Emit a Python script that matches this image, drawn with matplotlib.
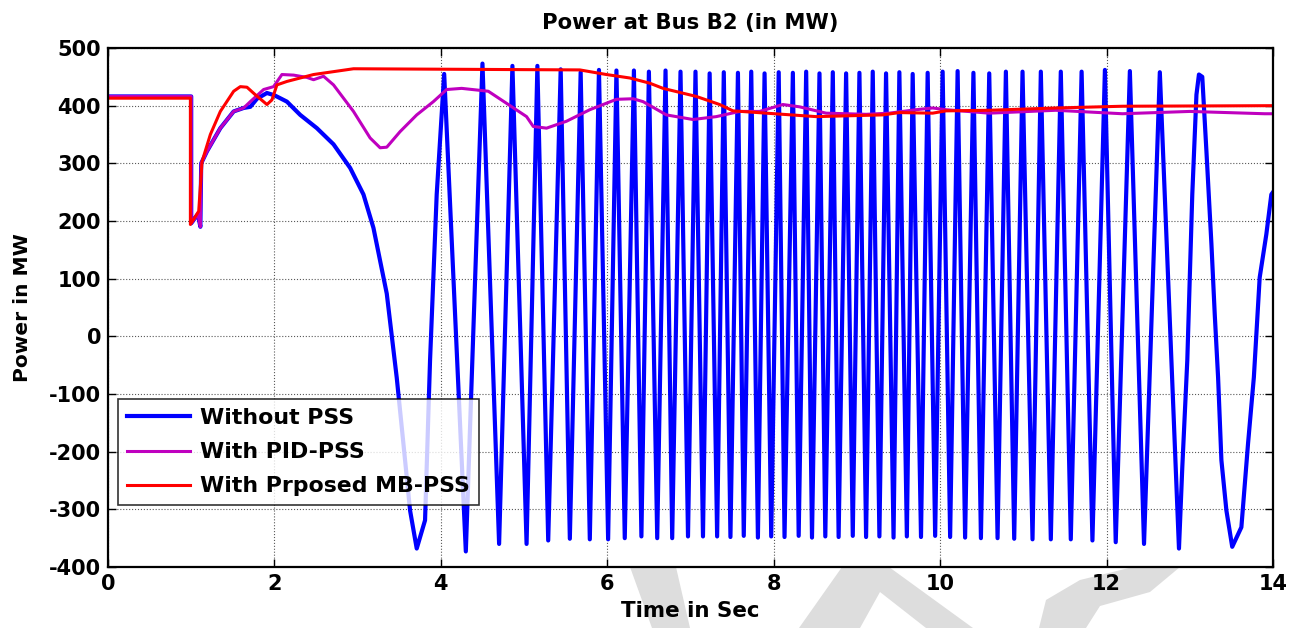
import numpy as np
import matplotlib.pyplot as plt
from matplotlib.patches import Polygon

plt.rcParams['font.family'] = ['DejaVu Sans']
plt.rcParams['font.weight'] = 'bold'
plt.rcParams['axes.unicode_minus'] = False

# Without PSS : descente lente puis oscillations (extrema)
t_debut = [0, 1.0, 1.0, 1.08, 1.11, 1.12, 1.19, 1.35, 1.51, 1.63, 1.71, 1.79, 1.91, 2.0,
           2.15, 2.31, 2.51, 2.71, 2.91, 3.07, 3.19, 3.27, 3.35, 3.47, 3.55, 3.63,
           3.71, 3.81, 3.87, 3.95]
p_debut = [416, 416, 196, 212, 190, 300, 321, 361, 390, 396, 398, 412, 422, 418,
           407, 384, 361, 333, 292, 246, 188, 131, 74, -72, -186, -302,
           -368, -319, -42, 246]

t_pics = [4.04, 4.50, 4.86, 5.16, 5.44, 5.68, 5.90, 6.11, 6.32, 6.50, 6.70, 6.88, 7.06,
          7.23, 7.40, 7.57, 7.73, 7.89, 8.06, 8.23, 8.39, 8.55, 8.71, 8.87, 9.03, 9.19,
          9.35, 9.51, 9.67, 9.85, 10.03, 10.21, 10.40, 10.59, 10.79, 10.99, 11.21, 11.45,
          11.70, 11.98, 12.28, 12.64]
p_pics = [455, 473, 469, 469, 463, 458, 462, 461, 461, 459, 461, 459, 459,
          456, 458, 457, 459, 456, 458, 457, 459, 456, 458, 456, 457, 459,
          456, 458, 455, 457, 459, 460, 457, 456, 459, 459, 459, 459,
          459, 462, 460, 458]
t_creux = [4.30, 4.70, 5.03, 5.29, 5.55, 5.79, 6.01, 6.21, 6.41, 6.60, 6.78, 6.97, 7.15,
           7.32, 7.48, 7.64, 7.81, 7.97, 8.13, 8.30, 8.46, 8.62, 8.78, 8.95, 9.11, 9.27,
           9.44, 9.60, 9.77, 9.94, 10.12, 10.30, 10.49, 10.69, 10.89, 11.11, 11.33, 11.57,
           11.83, 12.11, 12.45, 12.87]
p_creux = [-373, -360, -360, -354, -351, -352, -352, -350, -347, -350, -350, -347, -347,
           -347, -348, -346, -349, -347, -348, -346, -349, -347, -348, -346, -348, -347,
           -349, -347, -348, -346, -348, -349, -350, -350, -351, -352, -352, -352,
           -354, -357, -360, -368]

t_fin = [12.91, 12.97, 13.03, 13.08, 13.11, 13.15, 13.20, 13.26, 13.30, 13.34, 13.38,
         13.44, 13.51, 13.62, 13.70, 13.77, 13.84, 13.92, 13.98, 14.0]
p_fin = [-227, -42, 246, 419, 454, 450, 321, 160, 38, -71, -215,
         -302, -365, -331, -186, -71, 102, 177, 246, 250]

# With PID-PSS
t_pid = [0, 1.0, 1.0, 1.08, 1.11, 1.12, 1.19, 1.35, 1.51, 1.63, 1.71, 1.87, 1.99, 2.09,
         2.23, 2.39, 2.47, 2.59, 2.71, 2.95, 3.15, 3.27, 3.35, 3.51, 3.71, 3.91, 4.07,
         4.25, 4.57, 4.79, 5.03, 5.11, 5.27, 5.51, 5.79, 6.11, 6.31, 6.43, 6.71, 7.03,
         7.31, 7.59, 7.83, 8.11, 8.31, 8.63, 9.11, 9.39, 9.71, 9.91, 10.07, 10.59,
         11.39, 12.19, 13.0, 13.9, 14.0]
p_pid = [416, 416, 196, 212, 190, 300, 321, 361, 390, 396, 407, 428, 433, 454,
         453, 449, 445, 451, 436, 390, 344, 327, 328, 355, 384, 407, 428,
         430, 425, 404, 381, 364, 361, 373, 393, 411, 412, 407, 384, 376,
         381, 390, 390, 402, 398, 387, 385, 387, 393, 396, 393, 387,
         392, 386, 390, 386, 386]

# With Prposed MB-PSS
t_mb = [0, 0.99, 0.99, 1.09, 1.13, 1.23, 1.35, 1.51, 1.59, 1.67, 1.77, 1.91, 1.97, 2.03,
        2.15, 2.47, 2.95, 5.67, 5.99, 6.27, 6.51, 6.67, 7.07, 7.35, 7.51, 7.91, 8.51,
        9.31, 9.51, 9.91, 10.07, 10.59, 11.39, 12.19, 14.0]
p_mb = [413, 413, 194, 217, 303, 350, 390, 425, 433, 432, 419, 402, 410, 436,
        442, 454, 464, 462, 454, 448, 439, 430, 416, 402, 391, 387, 381,
        384, 388, 387, 391, 392, 396, 399, 400]

# Assemblage de la courbe sans PSS
t_osc = np.array(t_pics + t_creux)
p_osc = np.array(p_pics + p_creux)
ordre = np.argsort(t_osc)
t_sans = np.concatenate([t_debut, t_osc[ordre], t_fin])
p_sans = np.concatenate([p_debut, p_osc[ordre], p_fin])

W, H = 1295, 628
fig = plt.figure(figsize=(W / 100, H / 100), dpi=100)

# filigrane gris sous le graphe (coordonnées en pixels)
filigrane = [
    [(630, 567), (676, 567), (690, 628), (652, 628)],
    [(842, 567), (889, 567), (973, 628), (926, 628), (880, 592), (860, 628), (799, 628)],
    [(1039, 628), (1046, 600), (1080, 580), (1133, 567), (1180, 567), (1150, 592),
     (1100, 606), (1086, 628)],
]
for forme in filigrane:
    pts = [(x / W, 1 - y / H) for x, y in forme]
    fig.patches.append(Polygon(pts, closed=True, transform=fig.transFigure,
                               facecolor='#dddddd', edgecolor='none', zorder=-5))

ax = fig.add_axes([108 / W, 1 - 567 / H, (1273 - 108) / W, (567 - 48) / H])

ax.plot(t_sans, p_sans, color=(0, 0, 1), linewidth=3.0, label='Without PSS')
ax.plot(t_pid, p_pid, color=(0.75, 0, 0.75), linewidth=2.2, label='With PID-PSS')
ax.plot(t_mb, p_mb, color=(1, 0, 0), linewidth=2.2, label='With Prposed MB-PSS')

ax.set_xlim(0, 14)
ax.set_ylim(-400, 500)
ax.set_xticks(np.arange(0, 15, 2))
ax.set_yticks(np.arange(-400, 501, 100))
ax.tick_params(direction='in', top=True, right=True, labelsize=15, length=6, width=1, pad=5)
ax.grid(True, linestyle=':', color='0.35', linewidth=0.8)
for s in ax.spines.values():
    s.set_linewidth(1.6)

ax.set_title('Power at Bus B2 (in MW)', fontsize=15.2, fontweight='bold', pad=14)
ax.set_xlabel('Time in Sec', fontsize=15.4, fontweight='bold', labelpad=5)
ax.set_ylabel('Power in MW', fontsize=14.5, fontweight='bold', labelpad=12)

leg = ax.legend(loc='lower left', bbox_to_anchor=(0.0086, 0.119), borderaxespad=0,
                fontsize=15.8, frameon=True, fancybox=False, edgecolor='black',
                handlelength=2.9, borderpad=0.4, labelspacing=0.65, handletextpad=0.45)
leg.get_frame().set_linewidth(1.2)
leg.set_zorder(5)

fig.savefig('out.png', dpi=100)
